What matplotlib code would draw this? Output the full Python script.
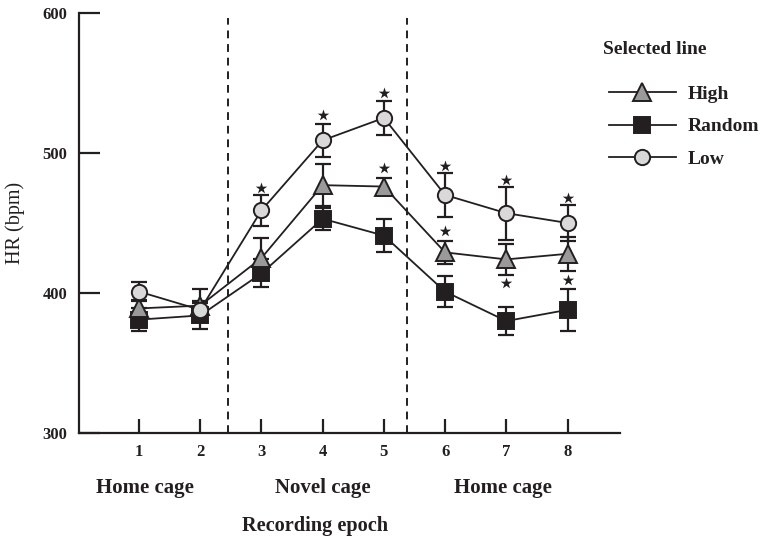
import matplotlib
matplotlib.use("Agg")
import matplotlib.pyplot as plt
from matplotlib.lines import Line2D

plt.rcParams['font.family'] = ['Liberation Serif', 'DejaVu Serif']

epochs = [1, 2, 3, 4, 5, 6, 7, 8]
low_mean = [401, 388, 459, 509, 525, 470, 457, 450]
low_err = [7, 5, 11, 12, 12, 16, 19, 13]
high_mean = [389, 391, 425, 477, 476, 429, 424, 428]
high_err = [6, 12, 14, 15, 6, 8, 11, 12]
rand_mean = [381, 384, 414, 453, 441, 401, 380, 388]
rand_err = [8, 10, 10, 8, 12, 11, 10, 15]

star_low_x = [3, 4, 5, 6, 7, 8]
star_low_y = [475, 527, 543, 491, 481, 468]
star_high_x = [5, 6]
star_high_y = [489, 444]
star_rand_x = [7, 8]
star_rand_y = [407, 409]

phase_bounds = [2.45, 5.38]
phase_labels = ["Home cage", "Novel cage", "Home cage"]
phase_centers = [1.1, 4.0, 6.95]
yticks = [300, 400, 500, 600]

ink = '#231f20'
fig = plt.figure(figsize=(7.6, 5.36), dpi=100)
ax = fig.add_axes([0.104, 0.192, 0.712, 0.784])

series = [
    (rand_mean, rand_err, 's', ink, 'Random', 11),
    (high_mean, high_err, '^', '#9a9a9a', 'High', 13),
    (low_mean, low_err, 'o', '#d9d9d9', 'Low', 11),
]
for i, (m, e, mk, fc, lab, ms) in enumerate(series):
    ax.errorbar(epochs, m, yerr=e, fmt='none', ecolor=ink, elinewidth=1.6,
                capsize=5.5, capthick=1.6, zorder=2 + 2 * i)
    ax.plot(epochs, m, color=ink, lw=1.3, marker=mk, ms=ms, mfc=fc, mec=ink,
            mew=1.4, zorder=3 + 2 * i)

for xs, ys in [(star_low_x, star_low_y), (star_high_x, star_high_y), (star_rand_x, star_rand_y)]:
    ax.scatter(xs, ys, marker='*', s=75, color=ink, linewidths=0, zorder=10)

for b in phase_bounds:
    ax.plot([b, b], [300, 596], ls=(0, (4, 3)), color=ink, lw=1.4, zorder=1, clip_on=False)

ax.set_xlim(0.02, 8.86)
ax.set_ylim(300, 600)
ax.set_yticks(yticks)
ax.set_xticks(epochs)
for s in ['top', 'right']:
    ax.spines[s].set_visible(False)
for s in ['left', 'bottom']:
    ax.spines[s].set_linewidth(1.6)
    ax.spines[s].set_color(ink)
ax.tick_params(axis='y', direction='in', length=15, width=1.6, color=ink, pad=8.5,
               labelsize=12)
ax.tick_params(axis='x', direction='in', length=10, width=1.6, color=ink, pad=8,
               labelsize=12)
for t in ax.get_xticklabels() + ax.get_yticklabels():
    t.set_fontweight('bold')
    t.set_color(ink)

ax.set_ylabel("HR (bpm)", fontsize=14.5, color=ink)
ax.yaxis.set_label_coords(-0.1, 0.5)

for lab, c in zip(phase_labels, phase_centers):
    ax.text(c, -0.13, lab, transform=ax.get_xaxis_transform(), ha='center', va='center',
            fontsize=15, fontweight='bold', color=ink)
ax.text(0.436, -0.22, "Recording epoch", transform=ax.transAxes, ha='center', va='center',
        fontsize=14.6, fontweight='bold', color=ink)

fig.text(0.793, 1 - 50 / 536, "Selected line", ha='left', va='center', fontsize=14,
         fontweight='bold', color=ink)
handles = [
    Line2D([], [], color=ink, lw=1.3, marker='^', ms=13, mfc='#9a9a9a', mec=ink, mew=1.4),
    Line2D([], [], color=ink, lw=1.3, marker='s', ms=11, mfc=ink, mec=ink, mew=1.4),
    Line2D([], [], color=ink, lw=1.3, marker='o', ms=11, mfc='#d9d9d9', mec=ink, mew=1.4),
]
leg = fig.legend(handles, ["High", "Random", "Low"],
                 loc='upper left', bbox_to_anchor=(0.7916, 0.856), frameon=False,
                 fontsize=14, handlelength=3.4, handletextpad=0.6,
                 labelspacing=0.78, borderaxespad=0)
for t in leg.get_texts():
    t.set_fontweight('bold')
    t.set_color(ink)

fig.savefig("out.png", dpi=100)
